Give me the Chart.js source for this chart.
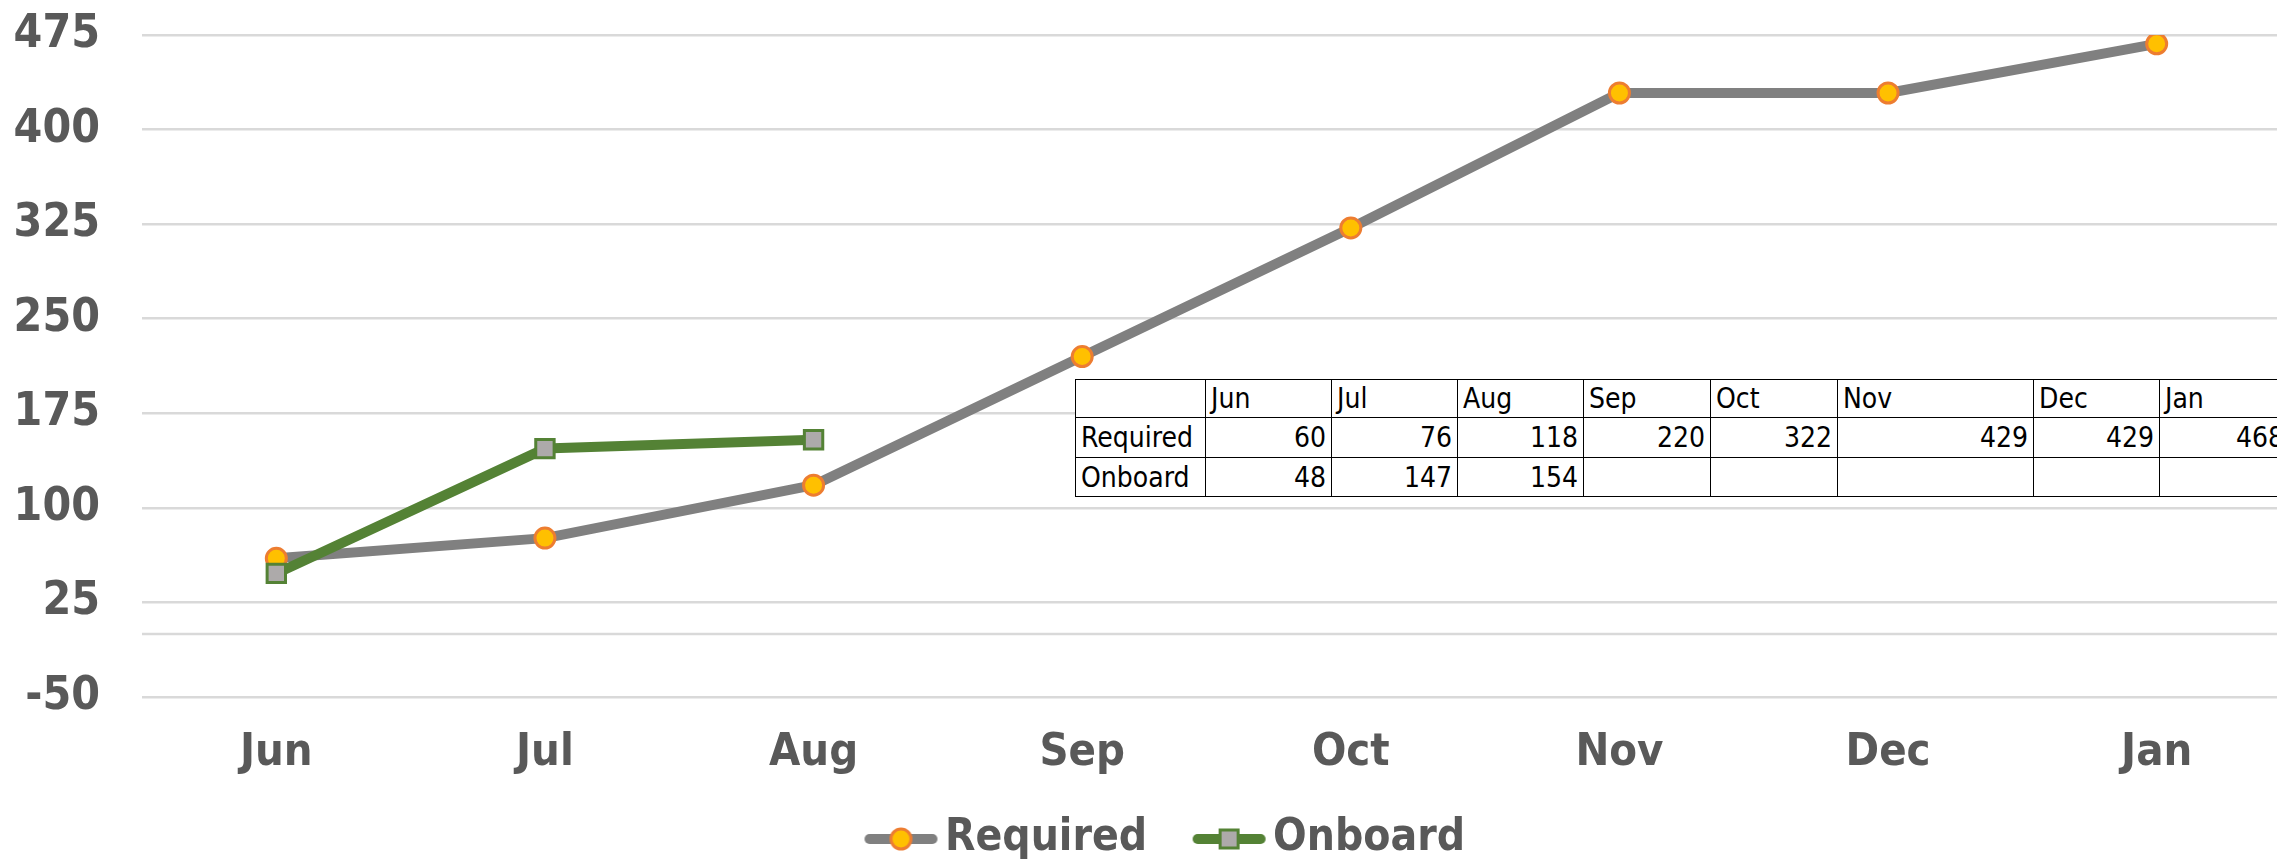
<!DOCTYPE html>
<html>
<head>
<meta charset="utf-8">
<script src="https://cdn.jsdelivr.net/npm/chart.js@4.4.1/dist/chart.umd.min.js"></script>
<style>
  html, body { margin: 0; padding: 0; overflow: hidden; background: #fff; width: 2277px; height: 861px; }
  #wrap { position: absolute; left: 0; top: 0; width: 2321px; height: 871px; }
  #dataTable {
    position: absolute; left: 1075px; top: 379px;
    border-collapse: collapse; table-layout: fixed; background: #fff;
    font-family: 'DejaVu Sans Condensed', 'DejaVu Sans', sans-serif;
    font-size: 28px; color: #000;
  }
  #dataTable td { border: 1.5px solid #000; padding: 0 5px; white-space: nowrap; overflow: hidden; }
  #dataTable td.num { text-align: right; }
</style>
</head>
<body>
<div id="wrap">
  <canvas id="chart" width="2321" height="871"></canvas>
  <table id="dataTable"></table>
</div>
<script>
const months = ['Jun', 'Jul', 'Aug', 'Sep', 'Oct', 'Nov', 'Dec', 'Jan'];
const required = [60, 76, 118, 220, 322, 429, 429, 468];
const onboard = [48, 147, 154, null, null, null, null, null];
const yMin = -50;
const yMax = 475;
const yStep = 75;

const GREY = '#808080';
const GREEN = '#548235';
const TEXT = '#595959';
const GRID = '#d9d9d9';

// data table under the lines
const colWidths = [130, 126, 126, 126, 127, 127, 196, 126, 130];
const rowHeights = [38, 40, 39];
const table = document.getElementById('dataTable');
table.style.width = colWidths.reduce((a, b) => a + b, 0) + 'px';
const cg = document.createElement('colgroup');
colWidths.forEach(w => {
    const col = document.createElement('col');
    col.style.width = w + 'px';
    cg.appendChild(col);
});
table.appendChild(cg);
const rows = [
    [''].concat(months),
    ['Required'].concat(required),
    ['Onboard'].concat(onboard)
];
rows.forEach((r, ri) => {
    const tr = document.createElement('tr');
    tr.style.height = rowHeights[ri] + 'px';
    r.forEach((v, ci) => {
        const td = document.createElement('td');
        td.textContent = v === null ? '' : v;
        if (ri > 0 && ci > 0) td.className = 'num';
        tr.appendChild(td);
    });
    table.appendChild(tr);
});

// legend icons: line with marker, left part of the image kept empty
function legendIcon(lineColor, marker) {
    const c = document.createElement('canvas');
    c.width = 100; c.height = 28;
    const g = c.getContext('2d');
    g.strokeStyle = lineColor;
    g.lineWidth = 10;
    g.lineCap = 'round';
    g.beginPath(); g.moveTo(30, 14); g.lineTo(93, 14); g.stroke();
    marker(g, 61.5, 14);
    return c;
}
const reqIcon = legendIcon(GREY, (g, x, y) => {
    g.beginPath(); g.arc(x, y, 10, 0, Math.PI * 2);
    g.fillStyle = '#ffc000'; g.fill();
    g.lineWidth = 3; g.strokeStyle = '#ed7d31'; g.stroke();
});
const onbIcon = legendIcon(GREEN, (g, x, y) => {
    g.fillStyle = '#adaaaa';
    g.fillRect(x - 9, y - 9, 18, 18);
    g.lineWidth = 3; g.strokeStyle = GREEN;
    g.strokeRect(x - 9, y - 9, 18, 18);
});

const zeroLine = {
    id: 'zeroLine',
    beforeDatasetsDraw(chart) {
        const { ctx, chartArea, scales } = chart;
        const y = scales.y.getPixelForValue(0);
        ctx.save();
        ctx.strokeStyle = GRID;
        ctx.lineWidth = 2.5;
        ctx.beginPath();
        ctx.moveTo(chartArea.left, y);
        ctx.lineTo(chartArea.right, y);
        ctx.stroke();
        ctx.restore();
    }
};

const font = 'DejaVu Sans Condensed';

new Chart(document.getElementById('chart'), {
    type: 'line',
    data: {
        labels: months,
        datasets: [
            {
                label: 'Required',
                data: required,
                borderColor: GREY,
                borderWidth: 10,
                borderCapStyle: 'round',
                borderJoinStyle: 'round',
                pointStyle: 'circle',
                pointRadius: 10,
                pointBackgroundColor: '#ffc000',
                pointBorderColor: '#ed7d31',
                pointBorderWidth: 3,
                order: 1
            },
            {
                label: 'Onboard',
                data: onboard,
                borderColor: GREEN,
                borderWidth: 10,
                borderCapStyle: 'round',
                borderJoinStyle: 'round',
                pointStyle: 'rect',
                pointRadius: 13,
                pointBackgroundColor: '#adaaaa',
                pointBorderColor: GREEN,
                pointBorderWidth: 3,
                spanGaps: false,
                order: 0
            }
        ]
    },
    options: {
        responsive: false,
        animation: false,
        layout: { padding: { top: 35, left: 0, right: 0, bottom: 0 } },
        plugins: {
            tooltip: { enabled: false },
            legend: {
                position: 'bottom',
                labels: {
                    usePointStyle: true,
                    pointStyleWidth: 67,
                    padding: 37,
                    color: TEXT,
                    font: { family: font, size: 44, weight: 'bold' },
                    generateLabels: chart => chart.data.datasets.map((ds, i) => ({
                        text: ds.label,
                        pointStyle: i === 0 ? reqIcon : onbIcon,
                        fontColor: TEXT,
                        lineWidth: 0,
                        datasetIndex: i
                    }))
                }
            }
        },
        scales: {
            x: {
                offset: true,
                grid: { display: false, drawTicks: false },
                border: { display: false },
                ticks: {
                    color: TEXT,
                    padding: 29,
                    maxRotation: 0,
                    font: { family: font, size: 45, weight: 'bold' }
                },
                afterFit: s => { s.height = 83; }
            },
            y: {
                min: yMin,
                max: yMax,
                grid: { color: GRID, lineWidth: 2.5, drawTicks: false },
                border: { display: false },
                ticks: {
                    stepSize: yStep,
                    color: TEXT,
                    padding: 42,
                    font: { family: font, size: 46, weight: 'bold' }
                },
                afterFit: s => { s.width = 142; s.paddingTop = 0; s.paddingBottom = 0; }
            },
            yRight: {
                position: 'right',
                display: true,
                grid: { drawOnChartArea: false, drawTicks: false },
                border: { display: false },
                ticks: { display: false },
                afterFit: s => { s.width = 30; s.paddingTop = 0; s.paddingBottom = 0; }
            }
        }
    },
    plugins: [zeroLine]
});
</script>
</body>
</html>
